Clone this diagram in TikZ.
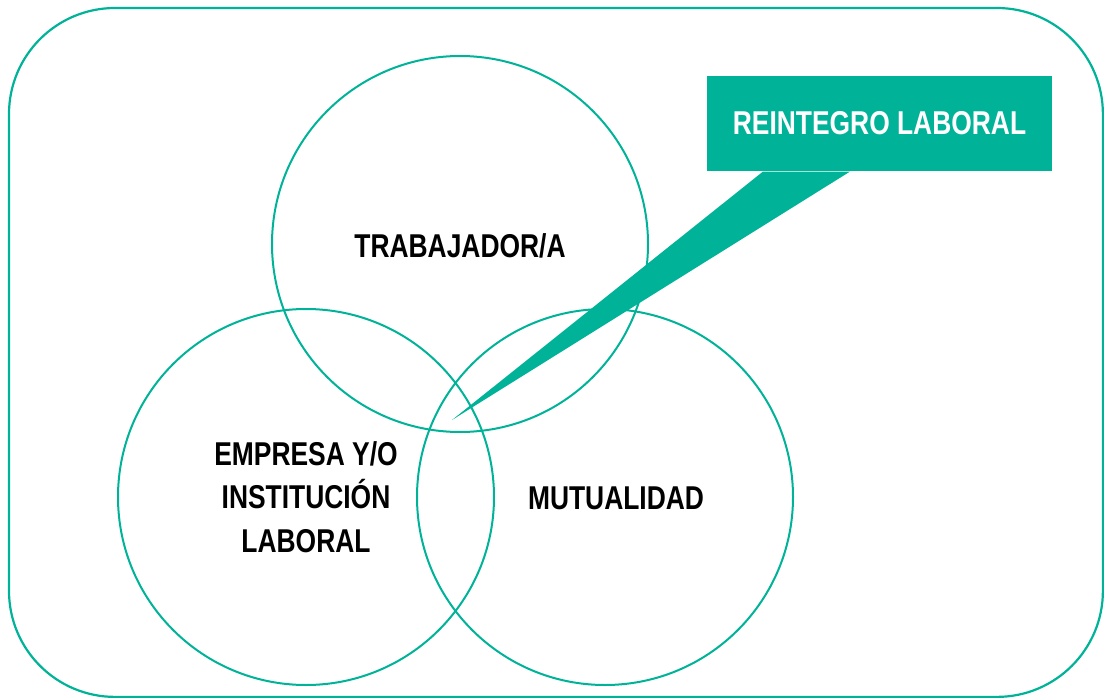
\documentclass[tikz,border=0pt]{standalone}
\usepackage{fontspec}
\newfontfamily\narrowfont{Liberation Sans}[FakeStretch=0.8]
\usetikzlibrary{calc}
\definecolor{teal1}{HTML}{00B398}
\begin{document}
\begin{tikzpicture}[x=1pt,y=-1pt,
  ring/.style={draw=teal1,line width=2pt,circle,minimum size=376pt,inner sep=0pt},
  lbl/.style={font=\narrowfont\bfseries\fontsize{33}{43.5}\selectfont,align=center,text=black},
  callout/.style={fill=teal1,minimum width=345pt,minimum height=95pt,inner sep=0pt,
    font=\narrowfont\bfseries\fontsize{33}{43}\selectfont,text=white}]
\useasboundingbox (0,0) rectangle (1104,698);
\draw[teal1,line width=2.2pt,rounded corners=106pt] (9,8) rectangle (1102.9,696.9);
\node[ring] (trab) at (460,244) {};
\node[ring] (emp) at (306,497) {};
\node[ring] (mut) at (605,497) {};
\node[lbl] (ttrab) at (460,246) {TRABAJADOR/A};
\node[lbl] (tmut) at (616,498) {MUTUALIDAD};
\node[lbl] (temp) at (306,497) {EMPRESA Y/O\\INSTITUCIÓN\\LABORAL};
\node[callout] (box) at (879.5,123.5) {REINTEGRO LABORAL};
\coordinate (tip) at (452,420);
\fill[teal1] ($(box.south west)+(56,0.5)$) -- (tip) -- ($(box.south west)+(143,0.5)$) -- cycle;
\end{tikzpicture}
\end{document}
